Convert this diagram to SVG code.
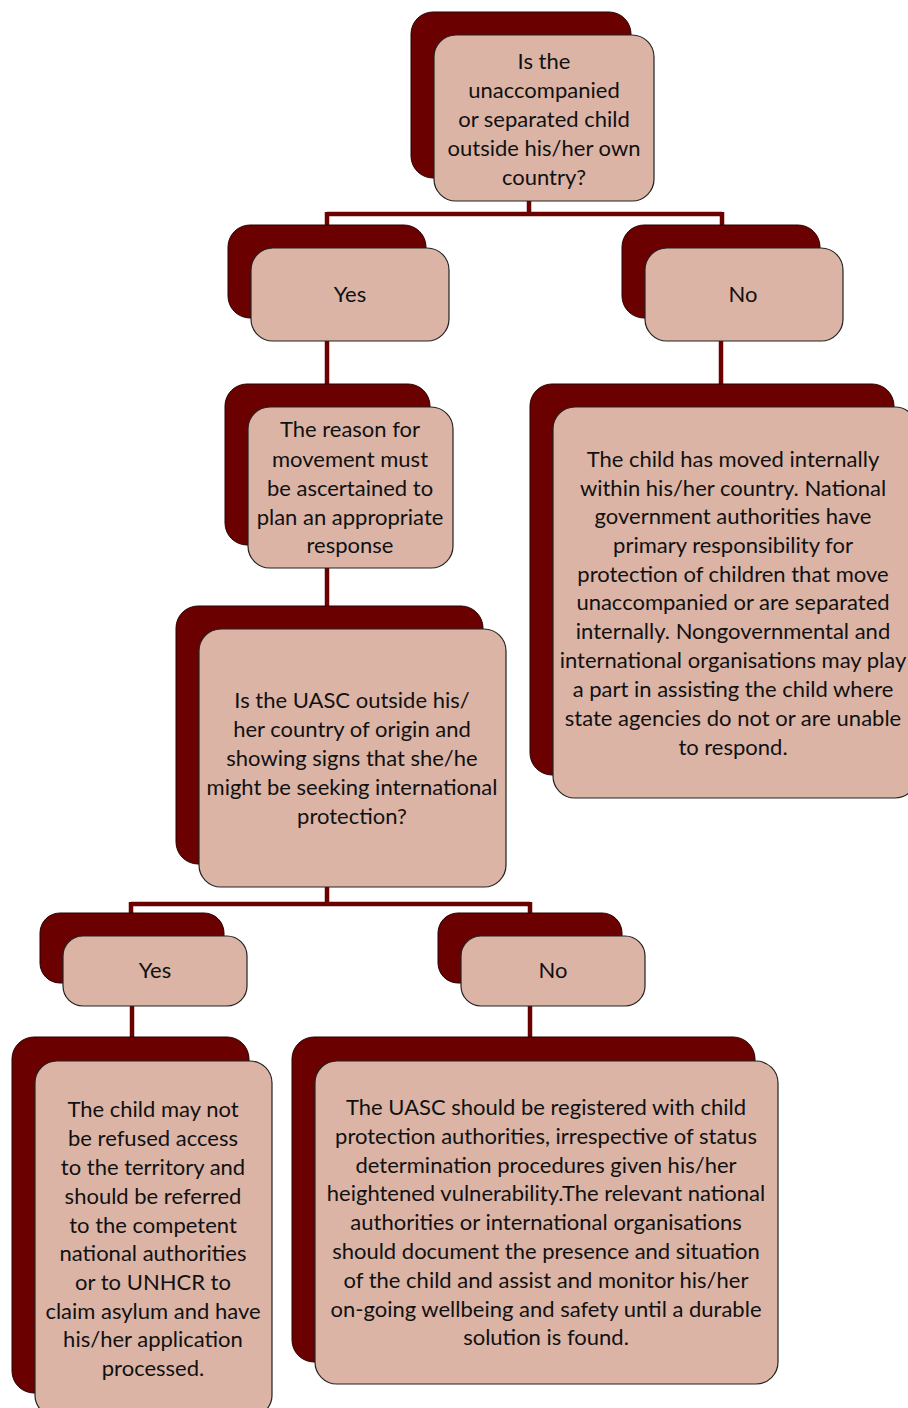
<svg xmlns="http://www.w3.org/2000/svg" width="908" height="1408" viewBox="0 0 908 1408">
<style>
.bk{fill:#6b0000;stroke:#2a0000;stroke-width:1}
.fr{fill:#dbb4a6;stroke:#222;stroke-width:1.2}
.t{font-family:Lato,"Open Sans",sans-serif;font-size:22px;fill:#111;text-anchor:middle}
.c{stroke:#6b0000;stroke-width:4.5;fill:none}
</style>
<rect width="908" height="1408" fill="#fff"/>
<g id="connectors">
<path class="c" d="M529 201V214M327 214H722M327 212V226M722 212V226"/>
<path class="c" d="M327 341V385"/>
<path class="c" d="M721 341V385"/>
<path class="c" d="M327 568V607"/>
<path class="c" d="M327 887V904M131 904H530M131 902V914M530 902V914"/>
<path class="c" d="M132 1006V1038"/>
<path class="c" d="M530 1006V1038"/>
</g>
<g id="n1">
<rect class="bk" x="411" y="12" width="220" height="166" rx="22"/>
<rect class="fr" x="434" y="35" width="220" height="166" rx="22"/>
<text class="t" x="544"><tspan x="544" y="69">Is the</tspan><tspan x="544" y="98">unaccompanied</tspan><tspan x="544" y="127">or separated child</tspan><tspan x="544" y="156">outside his/her own</tspan><tspan x="544" y="185">country?</tspan></text>
</g>
<g id="yes1">
<rect class="bk" x="228" y="225" width="198" height="93" rx="22"/>
<rect class="fr" x="251" y="248" width="198" height="93" rx="22"/>
<text class="t" x="350" y="302">Yes</text>
</g>
<g id="no1">
<rect class="bk" x="622" y="225" width="198" height="93" rx="22"/>
<rect class="fr" x="645" y="248" width="198" height="93" rx="22"/>
<text class="t" x="743" y="302">No</text>
</g>
<g id="reason">
<rect class="bk" x="225" y="384" width="205" height="161" rx="22"/>
<rect class="fr" x="248" y="407" width="205" height="161" rx="22"/>
<text class="t"><tspan x="350" y="437">The reason for</tspan><tspan x="350" y="467">movement must</tspan><tspan x="350" y="496">be ascertained to</tspan><tspan x="350" y="525">plan an appropriate</tspan><tspan x="350" y="553">response</tspan></text>
</g>
<g id="internal">
<rect class="bk" x="530" y="384" width="364" height="391" rx="22"/>
<rect class="fr" x="553" y="407" width="364" height="391" rx="22"/>
<text class="t"><tspan x="733" y="467">The child has moved internally</tspan><tspan x="733" y="496">within his/her country. National</tspan><tspan x="733" y="524">government authorities have</tspan><tspan x="733" y="553">primary responsibility for</tspan><tspan x="733" y="582">protection of children that move</tspan><tspan x="733" y="610">unaccompanied or are separated</tspan><tspan x="733" y="639">internally. Nongovernmental and</tspan><tspan x="733" y="668">international organisations may play</tspan><tspan x="733" y="697">a part in assisting the child where</tspan><tspan x="733" y="726">state agencies do not or are unable</tspan><tspan x="733" y="755">to respond.</tspan></text>
</g>
<g id="uasc">
<rect class="bk" x="176" y="606" width="307" height="258" rx="22"/>
<rect class="fr" x="199" y="629" width="307" height="258" rx="22"/>
<text class="t"><tspan x="352" y="708">Is the UASC outside his/</tspan><tspan x="352" y="737">her country of origin and</tspan><tspan x="352" y="766">showing signs that she/he</tspan><tspan x="352" y="795">might be seeking international</tspan><tspan x="352" y="824">protection?</tspan></text>
</g>
<g id="yes2">
<rect class="bk" x="40" y="913" width="184" height="70" rx="20"/>
<rect class="fr" x="63" y="936" width="184" height="70" rx="20"/>
<text class="t" x="155" y="978">Yes</text>
</g>
<g id="no2">
<rect class="bk" x="438" y="913" width="184" height="70" rx="20"/>
<rect class="fr" x="461" y="936" width="184" height="70" rx="20"/>
<text class="t" x="553" y="978">No</text>
</g>
<g id="asylum">
<rect class="bk" x="12" y="1037" width="237" height="356" rx="22"/>
<rect class="fr" x="35" y="1061" width="237" height="356" rx="22"/>
<text class="t"><tspan x="153" y="1117">The child may not</tspan><tspan x="153" y="1146">be refused access</tspan><tspan x="153" y="1175">to the territory and</tspan><tspan x="153" y="1204">should be referred</tspan><tspan x="153" y="1233">to the competent</tspan><tspan x="153" y="1261">national authorities</tspan><tspan x="153" y="1290">or to UNHCR to</tspan><tspan x="153" y="1319">claim asylum and have</tspan><tspan x="153" y="1347">his/her application</tspan><tspan x="153" y="1376">processed.</tspan></text>
</g>
<g id="register">
<rect class="bk" x="292" y="1037" width="463" height="325" rx="22"/>
<rect class="fr" x="315" y="1061" width="463" height="323" rx="22"/>
<text class="t"><tspan x="546" y="1115">The UASC should be registered with child</tspan><tspan x="546" y="1144">protection authorities, irrespective of status</tspan><tspan x="546" y="1173">determination procedures given his/her</tspan><tspan x="546" y="1201">heightened vulnerability.The relevant national</tspan><tspan x="546" y="1230">authorities or international organisations</tspan><tspan x="546" y="1259">should document the presence and situation</tspan><tspan x="546" y="1288">of the child and assist and monitor his/her</tspan><tspan x="546" y="1317">on-going wellbeing and safety until a durable</tspan><tspan x="546" y="1345">solution is found.</tspan></text>
</g>
</svg>
